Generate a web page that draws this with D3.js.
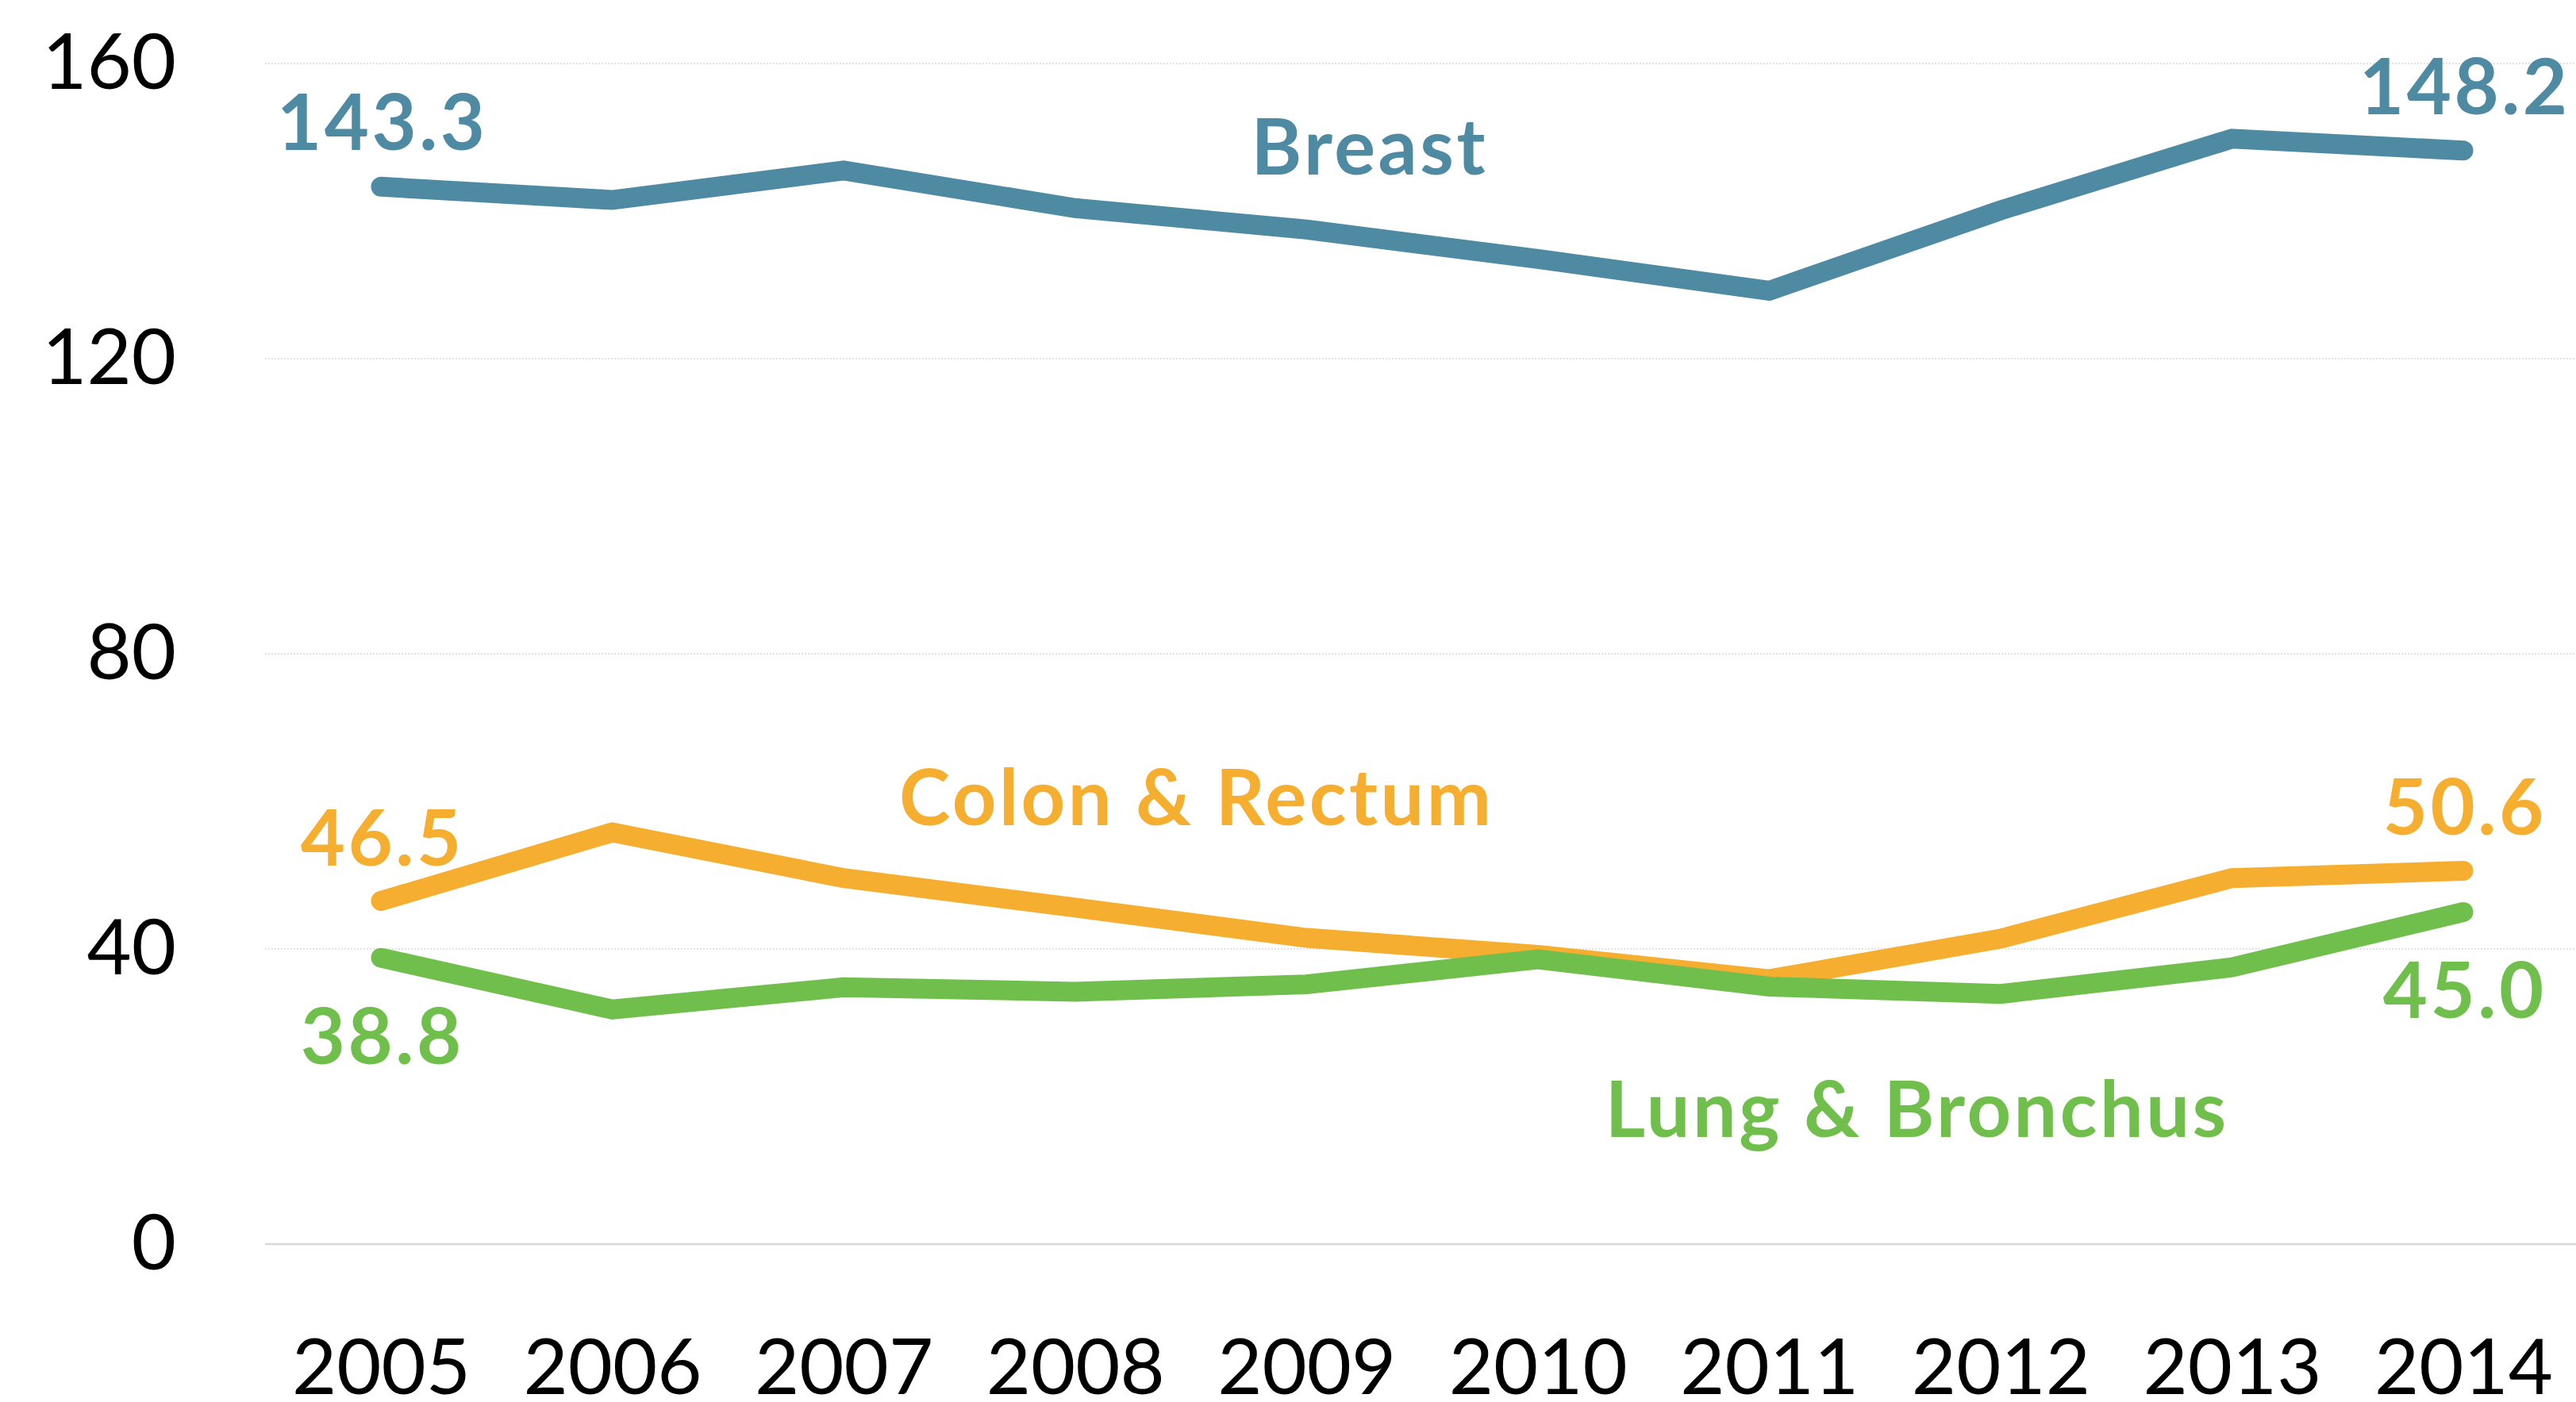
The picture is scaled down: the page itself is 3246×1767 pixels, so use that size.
<!DOCTYPE html>
<html>
<head>
<meta charset="utf-8">
<script src="https://cdn.jsdelivr.net/npm/d3@7"></script>
<style>
  html, body { margin: 0; padding: 0; background: #fff; }
  svg { display: block; }
  .tick text { font-family: Lato, "Noto Sans", sans-serif; font-size: 97px; fill: #000; }
</style>
</head>
<body>
<svg id="chart" width="3246" height="1767"></svg>
<script>
// Incidence rate by year for three cancer sites
const years = [2005, 2006, 2007, 2008, 2009, 2010, 2011, 2012, 2013, 2014];
const breast = [143.3, 141.5, 145.5, 140.4, 137.5, 133.5, 129.2, 140.1, 149.8, 148.2];
const colonRectum = [46.5, 55.8, 49.6, 45.6, 41.5, 39.2, 35.9, 41.4, 49.6, 50.6];
const lungBronchus = [38.8, 31.8, 34.8, 34.2, 35.2, 38.6, 34.9, 33.9, 37.5, 45.0];
const yTicks = [0, 40, 80, 120, 160];

const seriesNames = ["Breast", "Colon & Rectum", "Lung & Bronchus"];
const seriesColors = ["#4f8aa3", "#f5ae2f", "#70bf4d"];

const W = 3246, H = 1767;
const plotLeft = 334, plotRight = W;
const svg = d3.select("#chart");

const x = d3.scalePoint().domain(years).range([480, 3104]);
const y = d3.scaleLinear().domain([0, 160]).range([1568, 80]);

// Horizontal gridlines (dotted), solid baseline at zero
svg.append("g").selectAll("line")
  .data(yTicks)
  .join("line")
  .attr("x1", plotLeft).attr("x2", plotRight)
  .attr("y1", d => y(d)).attr("y2", d => y(d))
  .attr("stroke", d => d === 0 ? "#d6d6d6" : "#d9d9d9")
  .attr("stroke-width", d => d === 0 ? 2.5 : 1.5)
  .attr("stroke-dasharray", d => d === 0 ? null : "2 2");

// Y axis labels
const yAxis = svg.append("g")
  .attr("transform", `translate(${plotLeft},0)`)
  .call(d3.axisLeft(y).tickValues(yTicks).tickSize(0).tickPadding(112).tickFormat(d3.format("d")));
yAxis.select(".domain").remove();

// X axis labels
const xAxis = svg.append("g")
  .attr("transform", `translate(0,${y(0)})`)
  .call(d3.axisBottom(x).tickSize(0).tickPadding(120).tickFormat(d3.format("d")));
xAxis.select(".domain").remove();

// Lines
const line = d3.line()
  .x((d, i) => x(years[i]))
  .y(d => y(d));

const allSeries = [breast, colonRectum, lungBronchus];
svg.append("g").selectAll("path")
  .data(allSeries)
  .join("path")
  .attr("d", d => line(d))
  .attr("fill", "none")
  .attr("stroke", (d, i) => seriesColors[i])
  .attr("stroke-width", 25)
  .attr("stroke-linecap", "round")
  .attr("stroke-linejoin", "miter");

// End-point value labels and series names
const labelFont = "Lato, 'Noto Sans', sans-serif";
const spacing = 3.5;
const first = 0, last = years.length - 1;
const valueLabels = [
  { s: 0, i: first, dy: -46 },
  { s: 0, i: last, dy: -46 },
  { s: 1, i: first, dy: -45 },
  { s: 1, i: last, dy: -45 },
  { s: 2, i: first, dy: 134 },
  { s: 2, i: last, dy: 133 }
];
svg.append("g").selectAll("text")
  .data(valueLabels)
  .join("text")
  .attr("x", d => x(years[d.i]) + spacing / 2)
  .attr("y", d => y(allSeries[d.s][d.i]) + d.dy)
  .attr("text-anchor", "middle")
  .attr("font-family", labelFont)
  .attr("font-weight", 700)
  .attr("font-size", 97)
  .attr("letter-spacing", spacing)
  .attr("fill", d => seriesColors[d.s])
  .text(d => d3.format(".1f")(allSeries[d.s][d.i]));

const nameLabels = [
  { s: 0, x: 1724, y: 220 },
  { s: 1, x: 1506, y: 1040 },
  { s: 2, x: 2414, y: 1433 }
];
svg.append("g").selectAll("text")
  .data(nameLabels)
  .join("text")
  .attr("x", d => d.x + spacing / 2)
  .attr("y", d => d.y)
  .attr("text-anchor", "middle")
  .attr("font-family", labelFont)
  .attr("font-weight", 700)
  .attr("font-size", 97)
  .attr("letter-spacing", spacing)
  .attr("fill", d => seriesColors[d.s])
  .text(d => seriesNames[d.s]);
</script>
</body>
</html>
